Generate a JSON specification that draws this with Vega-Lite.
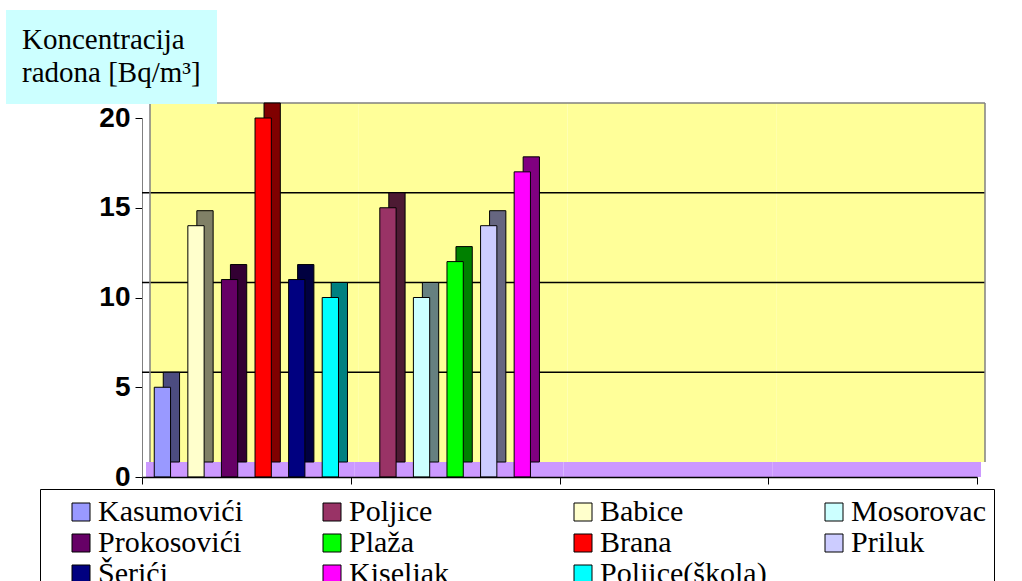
{
  "$schema": "https://vega.github.io/schema/vega-lite/v6.json",
  "width": 835,
  "height": 359,
  "autosize": {"type": "none"},
  "padding": {"left": 142, "top": 118, "right": 45, "bottom": 104},
  "background": "white",
  "config": {
    "view": {"stroke": null},
    "axisX": {"domainColor": "black", "domainWidth": 1.5, "tickColor": "black", "tickSize": 7, "tickWidth": 1, "labels": false, "grid": false, "tickBand": "extent"},
    "axisY": {"domainColor": "#808080", "domainWidth": 1, "tickColor": "black", "tickSize": 7, "tickCount": 5, "labelFont": "Liberation Sans", "labelFontWeight": "bold", "labelFontSize": 28, "labelColor": "black", "labelPadding": 5, "grid": false}
  },
  "resolve": {"scale": {"xOffset": "independent"}},
  "datasets": {
    "stations": [
      {"station": "Kasumovići", "group": "g1", "value": 5},
      {"station": "Babice", "group": "g1", "value": 14},
      {"station": "Prokosovići", "group": "g1", "value": 11},
      {"station": "Brana", "group": "g1", "value": 20},
      {"station": "Šerići", "group": "g1", "value": 11},
      {"station": "Poljice(škola)", "group": "g1", "value": 10},
      {"station": "Poljice", "group": "g2", "value": 15},
      {"station": "Mosorovac", "group": "g2", "value": 10},
      {"station": "Plaža", "group": "g2", "value": 12},
      {"station": "Priluk", "group": "g2", "value": 14},
      {"station": "Kiseljak", "group": "g2", "value": 17}
    ],
    "groups": [{"group": "g1"}, {"group": "g2"}, {"group": "g3"}, {"group": "g4"}],
    "grid": [{"v": 5}, {"v": 10}, {"v": 15}]
  },
  "layer": [
    {
      "data": {"name": "groups"},
      "mark": {"type": "rect", "fill": "#FFFF99", "xOffset": 8, "yOffset": -15, "y2Offset": -15},
      "encoding": {
        "x": {"field": "group", "type": "nominal", "title": null, "scale": {"domain": ["g1", "g2", "g3", "g4"], "paddingInner": 0, "paddingOuter": 0}},
        "y": {"datum": 0, "type": "quantitative", "title": null, "scale": {"domain": [0, 20], "nice": false}},
        "y2": {"datum": 20},
        "opacity": {
          "field": "group", "type": "ordinal",
          "scale": {"range": [1, 1, 1, 1]},
          "legend": {"orient": "none", "legendX": -136, "legendY": -108, "values": [], "title": ["Koncentracija", "radona [Bq/m³]    "], "fillColor": "#CCFFFF", "padding": 16, "titleFont": "Liberation Serif", "titleFontSize": 29, "titleFontWeight": "normal", "titleLineHeight": 33, "titleColor": "black", "titleLimit": 400}
        }
      }
    },
    {
      "data": {"name": "groups"},
      "mark": {"type": "rect", "fill": "#CC99FF", "xOffset": 4, "y2Offset": -15},
      "encoding": {
        "x": {"field": "group", "type": "nominal", "title": null},
        "y": {"datum": 0, "type": "quantitative", "title": null},
        "y2": {"datum": 0}
      }
    },
    {
      "data": {"name": "grid"},
      "mark": {"type": "rule", "color": "black", "strokeWidth": 1.5, "xOffset": 8, "x2Offset": 8, "yOffset": -15},
      "encoding": {
        "y": {"field": "v", "type": "quantitative", "title": null}
      }
    },
    {
      "data": {"values": [{"v": 20}]},
      "mark": {"type": "rule", "color": "#808080", "strokeWidth": 1.5, "xOffset": 8, "x2Offset": 8, "yOffset": -15},
      "encoding": {
        "y": {"field": "v", "type": "quantitative", "title": null}
      }
    },
    {
      "data": {"values": [{"group": "g1"}]},
      "mark": {"type": "rule", "color": "#808080", "strokeWidth": 1.5, "xOffset": 8, "yOffset": -15, "y2Offset": -15},
      "encoding": {
        "x": {"datum": "g1", "bandPosition": 0, "title": null},
        "y": {"datum": 0, "type": "quantitative", "title": null},
        "y2": {"datum": 20}
      }
    },
    {
      "data": {"values": [{"group": "g4"}]},
      "mark": {"type": "rule", "color": "#808080", "strokeWidth": 1.5, "xOffset": 8, "yOffset": -15, "y2Offset": -15},
      "encoding": {
        "x": {"datum": "g4", "bandPosition": 1, "title": null},
        "y": {"datum": 0, "type": "quantitative", "title": null},
        "y2": {"datum": 20}
      }
    },
    {
      "data": {"name": "stations"},
      "mark": {"type": "bar", "stroke": "black", "strokeWidth": 1, "yOffset": -15, "y2Offset": -15, "opacity": 1},
      "encoding": {
        "x": {"field": "group", "type": "nominal", "title": null},
        "xOffset": {"field": "station", "type": "nominal", "scale": {"domain": ["Kasumovići", "Poljice", "Babice", "Mosorovac", "Prokosovići", "Plaža", "Brana", "Priluk", "Šerići", "Kiseljak", "Poljice(škola)"], "paddingInner": 0.03, "paddingOuter": 0.73, "align": 0.867}},
        "y": {"field": "value", "type": "quantitative", "title": null},
        "fill": {
          "field": "station", "type": "nominal",
          "scale": {"domain": ["Kasumovići", "Babice", "Prokosovići", "Brana", "Šerići", "Poljice(škola)", "Poljice", "Mosorovac", "Plaža", "Priluk", "Kiseljak"],
                    "range": ["#4C4C80", "#808066", "#330033", "#800000", "#000040", "#008080", "#4D1A33", "#668080", "#008000", "#666680", "#800080"]},
          "legend": null
        }
      }
    },
    {
      "data": {"name": "stations"},
      "mark": {"type": "bar", "stroke": "black", "strokeWidth": 1, "opacity": 1},
      "encoding": {
        "x": {"field": "group", "type": "nominal", "title": null},
        "xOffset": {"field": "station", "type": "nominal", "scale": {"domain": ["Kasumovići", "Poljice", "Babice", "Mosorovac", "Prokosovići", "Plaža", "Brana", "Priluk", "Šerići", "Kiseljak", "Poljice(škola)"], "paddingInner": 0.03, "paddingOuter": 0.73, "align": 0.5}},
        "y": {"field": "value", "type": "quantitative", "title": null},
        "color": {
          "field": "station", "type": "nominal",
          "scale": {"domain": ["Kasumovići", "Prokosovići", "Šerići", "Poljice", "Plaža", "Kiseljak", "Babice", "Brana", "Poljice(škola)", "Mosorovac", "Priluk"],
                    "range": ["#9999FF", "#660066", "#000080", "#993366", "#00FF00", "#FF00FF", "#FFFFCC", "#FF0000", "#00FFFF", "#CCFFFF", "#CCCCFF"]},
          "legend": {"orient": "none", "legendX": -102, "legendY": 371, "columns": 4, "title": null, "strokeColor": "black", "fillColor": "white", "padding": 8, "symbolType": "square", "symbolSize": 324, "symbolStrokeColor": "black", "symbolStrokeWidth": 1, "symbolOpacity": 1, "symbolOffset": 18, "labelOffset": 2, "labelFont": "Liberation Serif", "labelFontSize": 30, "labelColor": "black", "labelLimit": 400, "gridAlign": "all", "columnPadding": 34, "rowPadding": 1}
        }
      }
    }
  ]
}
